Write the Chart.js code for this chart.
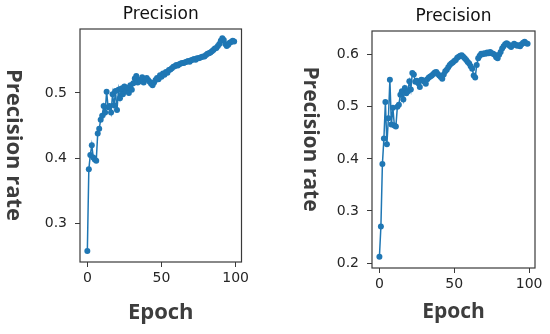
<!DOCTYPE html>
<html>
<head>
<meta charset="utf-8">
<script src="https://cdn.jsdelivr.net/npm/chart.js@4.4.1/dist/chart.umd.min.js"></script>
<style>
  html, body { margin: 0; padding: 0; background: #fff; }
  .panel { position: absolute; top: 0; width: 275px; height: 334px; }
  #leftPanel { left: 0; }
  #rightPanel { left: 275px; }
</style>
</head>
<body>
<div class="panel" id="leftPanel"><canvas id="leftChart"></canvas></div>
<div class="panel" id="rightPanel"><canvas id="rightChart"></canvas></div>
<script>
// Precision per epoch
const precisionLeft = [
  0.258, 0.383, 0.405, 0.420, 0.401, 0.398, 0.396, 0.438, 0.445, 0.459,
  0.465, 0.480, 0.470, 0.502, 0.478, 0.480, 0.470, 0.498, 0.481, 0.503,
  0.474, 0.505, 0.492, 0.507, 0.498, 0.510, 0.503, 0.508, 0.500, 0.512,
  0.505, 0.515, 0.522, 0.526, 0.516, 0.520, 0.518, 0.524, 0.516, 0.521,
  0.523, 0.520, 0.517, 0.514, 0.512, 0.516, 0.520, 0.523, 0.521, 0.527,
  0.525, 0.530, 0.528, 0.532, 0.531, 0.535, 0.536, 0.538, 0.540, 0.541,
  0.543, 0.542, 0.544, 0.545, 0.546, 0.546, 0.547, 0.548, 0.549, 0.548,
  0.550, 0.551, 0.552, 0.551, 0.553, 0.553, 0.554, 0.555, 0.556, 0.556,
  0.558, 0.560, 0.561, 0.562, 0.564, 0.566, 0.568, 0.569, 0.572, 0.575,
  0.580, 0.584, 0.581, 0.575, 0.572, 0.574, 0.577, 0.578, 0.580, 0.579
];
const precisionRight = [
  0.212, 0.270, 0.390, 0.439, 0.509, 0.428, 0.478, 0.552, 0.466, 0.498,
  0.464, 0.462, 0.500, 0.504, 0.523, 0.530, 0.514, 0.536, 0.526, 0.530,
  0.549, 0.533, 0.565, 0.562, 0.548, 0.550, 0.545, 0.538, 0.552, 0.551,
  0.548, 0.544, 0.553, 0.556, 0.558, 0.560, 0.563, 0.566, 0.567, 0.563,
  0.560, 0.557, 0.554, 0.562, 0.568, 0.571, 0.576, 0.580, 0.583, 0.585,
  0.588, 0.590, 0.594, 0.596, 0.598, 0.599, 0.596, 0.593, 0.590, 0.586,
  0.583, 0.578, 0.573, 0.560, 0.556, 0.580, 0.593, 0.598, 0.602, 0.601,
  0.603, 0.602, 0.604, 0.603, 0.605, 0.603, 0.602, 0.600, 0.595, 0.593,
  0.600, 0.605, 0.612, 0.616, 0.620, 0.622, 0.620, 0.617, 0.615, 0.618,
  0.621, 0.619, 0.617, 0.618, 0.616, 0.620, 0.623, 0.625, 0.622, 0.621
];
const xTicks = [0, 50, 100];
const yTicksLeft = [0.3, 0.4, 0.5];
const yTicksRight = [0.2, 0.3, 0.4, 0.5, 0.6];

const lineColor = "#1f77b4";
const textColor = "#262626";
const labelColor = "#3d3d3d";

// box round the plot area, like matplotlib spines
const framePlugin = {
  id: "frame",
  afterDatasetsDraw(chart) {
    const { ctx, chartArea: a } = chart;
    ctx.save();
    ctx.strokeStyle = "#3a3a3a";
    ctx.lineWidth = 1.2;
    ctx.strokeRect(a.left, a.top, a.right - a.left, a.bottom - a.top);
    ctx.restore();
  },
};

// y label reads top to bottom, which Chart.js titles can't do on the left
const yLabelPlugin = {
  id: "yLabel",
  afterDraw(chart, args, opts) {
    const ctx = chart.ctx;
    ctx.save();
    ctx.translate(opts.x, opts.y);
    ctx.rotate(Math.PI / 2);
    ctx.font = "bold " + opts.size + "px 'Open Sans'";
    ctx.fillStyle = labelColor;
    ctx.textAlign = "center";
    ctx.textBaseline = "middle";
    ctx.fillText(opts.text, 0, 0);
    ctx.restore();
  },
};

function makeChart(id, values, yTicks, cfg) {
  const ctx = document.getElementById(id).getContext("2d");
  return new Chart(ctx, {
    type: "line",
    data: {
      datasets: [
        {
          data: values.map((v, i) => ({ x: i, y: v })),
          borderColor: lineColor,
          backgroundColor: lineColor,
          borderWidth: 1.5,
          pointRadius: 3,
          pointBorderWidth: 0,
          pointBackgroundColor: lineColor,
          tension: 0,
        },
      ],
    },
    options: {
      responsive: true,
      maintainAspectRatio: false,
      animation: false,
      events: [],
      layout: { padding: { left: 0, right: cfg.padRight, top: 0, bottom: 0 } },
      plugins: {
        legend: { display: false },
        tooltip: { enabled: false },
        title: {
          display: true,
          text: "Precision",
          fullSize: false,
          color: "#111",
          font: { family: "DejaVu Sans", size: 17, weight: "normal" },
          padding: { top: cfg.titleTop, bottom: cfg.titleBottom },
        },
        yLabel: { text: "Precision rate", x: cfg.yLabelX, y: cfg.yLabelY, size: cfg.labelSize },
      },
      scales: {
        x: {
          type: "linear",
          min: -4.95,
          max: 103.95,
          afterBuildTicks: (s) => { s.ticks = xTicks.map((v) => ({ value: v })); },
          afterFit: (s) => { s.height = cfg.xHeight; },
          grid: { display: true, drawOnChartArea: false, tickLength: 5, color: "#3a3a3a" },
          border: { display: false },
          ticks: {
            color: textColor,
            padding: 3,
            maxRotation: 0,
            font: { family: "DejaVu Sans", size: 14 },
            callback: (v) => String(v),
          },
          title: {
            display: true,
            text: "Epoch",
            color: labelColor,
            font: { family: "Open Sans", size: cfg.labelSize, weight: "bold" },
            padding: { top: 0, bottom: cfg.xTitlePad },
          },
        },
        y: {
          min: cfg.yMin,
          max: cfg.yMax,
          afterBuildTicks: (s) => { s.ticks = yTicks.map((v) => ({ value: v })); },
          afterFit: (s) => { s.width = cfg.yWidth; },
          grid: { display: true, drawOnChartArea: false, tickLength: 5, color: "#3a3a3a" },
          border: { display: false },
          ticks: {
            color: textColor,
            padding: 8,
            font: { family: "DejaVu Sans", size: 14 },
            callback: (v) => Number(v).toFixed(1),
          },
        },
      },
    },
    plugins: [framePlugin, yLabelPlugin],
  });
}

makeChart("leftChart", precisionLeft, yTicksLeft, {
  yMin: 0.241, yMax: 0.598,
  padRight: 33.5, yWidth: 80, xHeight: 72,
  titleTop: 4, titleBottom: 4.6, xTitlePad: 8,
  yLabelX: 13, yLabelY: 145, labelSize: 22,
});

makeChart("rightChart", precisionRight, yTicksRight, {
  yMin: 0.1905, yMax: 0.6455,
  padRight: 15, yWidth: 97, xHeight: 66,
  titleTop: 6, titleBottom: 4.6, xTitlePad: 9.5,
  yLabelX: 35, yLabelY: 139, labelSize: 21,
});
</script>
</body>
</html>
